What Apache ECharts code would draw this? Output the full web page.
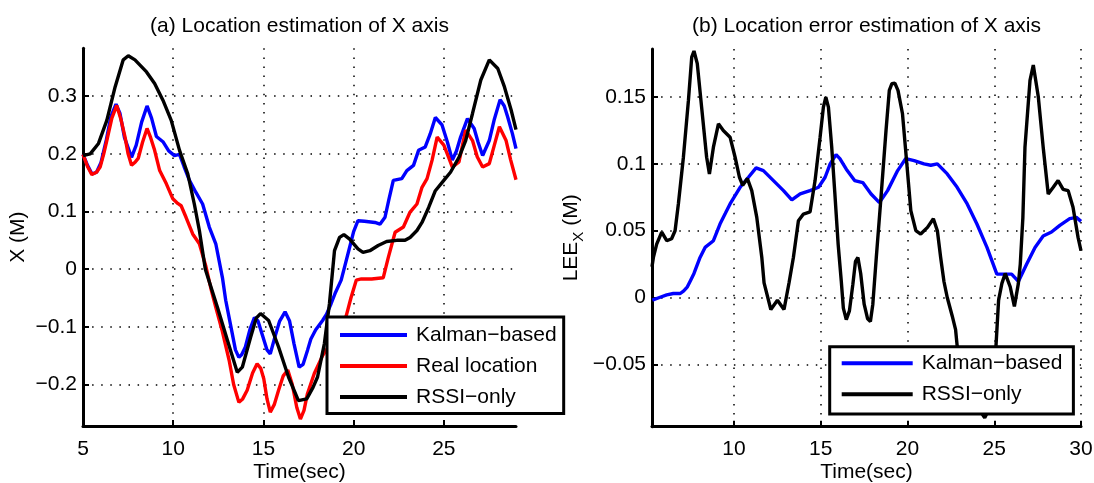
<!DOCTYPE html>
<html>
<head>
<meta charset="utf-8">
<script src="https://cdn.jsdelivr.net/npm/echarts@6/dist/echarts.min.js"></script>
<style>
  html, body { margin: 0; padding: 0; background: #fff; }
  #chart { width: 1094px; height: 483px; }
</style>
</head>
<body>
<div id="chart"></div>
<script>
// ---------- Panel (a): location estimate of X ----------
const timeKalmanA = [5.0, 5.25, 5.5, 5.75, 6.0, 6.3, 6.55, 6.83, 7.05, 7.3, 7.69, 7.95, 8.25, 8.55, 8.8, 9.07, 9.43, 9.75, 10.07, 10.35, 10.6, 10.9, 11.26, 11.63, 12.0, 12.36, 12.73, 12.91, 13.2, 13.45, 13.64, 13.8, 14.0, 14.25, 14.5, 14.7, 14.95, 15.2, 15.38, 15.66, 15.9, 16.2, 16.45, 16.7, 16.98, 17.2, 17.45, 17.63, 17.9, 18.28, 18.5, 18.75, 19.0, 19.31, 19.55, 19.78, 20.0, 20.24, 20.6, 21.18, 21.46, 21.74, 21.95, 22.2, 22.67, 22.95, 23.32, 23.6, 23.97, 24.25, 24.53, 24.9, 25.2, 25.47, 25.7, 25.93, 26.31, 26.68, 26.9, 27.15, 27.52, 27.8, 28.12, 28.35, 28.54, 28.8, 29.0];
const kalmanA = [0.199, 0.18, 0.165, 0.168, 0.185, 0.225, 0.265, 0.286, 0.27, 0.228, 0.194, 0.215, 0.255, 0.283, 0.262, 0.23, 0.221, 0.205, 0.197, 0.199, 0.178, 0.154, 0.133, 0.113, 0.073, 0.044, -0.015, -0.054, -0.1, -0.14, -0.153, -0.148, -0.135, -0.105, -0.084, -0.09, -0.115, -0.14, -0.147, -0.115, -0.09, -0.074, -0.09, -0.13, -0.17, -0.165, -0.14, -0.121, -0.105, -0.089, -0.078, -0.06, -0.04, -0.019, 0.01, 0.038, 0.065, 0.084, 0.083, 0.081, 0.078, 0.09, 0.12, 0.154, 0.157, 0.171, 0.18, 0.206, 0.212, 0.235, 0.263, 0.25, 0.22, 0.189, 0.205, 0.229, 0.261, 0.244, 0.22, 0.197, 0.223, 0.26, 0.294, 0.283, 0.264, 0.235, 0.209];

const timeRealA = [5.0, 5.25, 5.49, 5.75, 5.95, 6.15, 6.32, 6.6, 6.87, 7.1, 7.33, 7.5, 7.69, 7.9, 8.06, 8.3, 8.55, 8.75, 8.97, 9.25, 9.62, 9.98, 10.25, 10.44, 10.71, 11.08, 11.45, 11.81, 12.1, 12.36, 12.7, 13.1, 13.35, 13.64, 13.85, 14.1, 14.4, 14.65, 14.85, 15.02, 15.2, 15.38, 15.6, 15.84, 16.1, 16.35, 16.6, 16.85, 17.05, 17.25, 17.44, 17.82, 18.28, 18.7, 19.2, 19.59, 19.85, 20.15, 20.43, 21.0, 21.64, 21.92, 22.3, 22.76, 23.13, 23.51, 23.79, 24.07, 24.35, 24.63, 25.0, 25.25, 25.47, 25.84, 26.21, 26.59, 26.85, 27.15, 27.52, 27.8, 28.08, 28.45, 28.7, 29.0];
const realA = [0.199, 0.178, 0.164, 0.168, 0.177, 0.2, 0.223, 0.262, 0.284, 0.26, 0.229, 0.2, 0.18, 0.186, 0.192, 0.22, 0.244, 0.228, 0.206, 0.171, 0.148, 0.122, 0.114, 0.11, 0.09, 0.061, 0.044, 0.005, -0.035, -0.066, -0.105, -0.158, -0.2, -0.231, -0.225, -0.21, -0.18, -0.164, -0.172, -0.19, -0.225, -0.248, -0.235, -0.21, -0.185, -0.175, -0.2, -0.24, -0.26, -0.245, -0.216, -0.181, -0.15, -0.13, -0.105, -0.081, -0.05, -0.019, -0.017, -0.017, -0.015, 0.02, 0.064, 0.073, 0.099, 0.113, 0.142, 0.157, 0.189, 0.229, 0.215, 0.195, 0.177, 0.186, 0.241, 0.223, 0.195, 0.177, 0.183, 0.215, 0.247, 0.223, 0.19, 0.155];

const timeRssiA = [5.0, 5.4, 5.86, 6.32, 6.78, 7.23, 7.51, 7.88, 8.52, 8.97, 9.43, 9.89, 10.35, 10.81, 11.17, 11.45, 11.78, 12.45, 13.0, 13.55, 13.83, 14.29, 14.6, 14.84, 15.29, 15.84, 16.39, 16.94, 17.4, 17.75, 18.0, 18.38, 18.66, 18.94, 19.22, 19.46, 19.78, 20.24, 20.52, 20.9, 21.36, 21.83, 22.39, 22.85, 23.13, 23.51, 23.79, 24.16, 24.53, 25.0, 25.37, 25.84, 26.21, 26.59, 27.05, 27.52, 27.99, 28.36, 28.73, 29.0];
const rssiA = [0.197, 0.2, 0.218, 0.258, 0.316, 0.363, 0.37, 0.363, 0.342, 0.322, 0.293, 0.258, 0.206, 0.165, 0.113, 0.067, 0.0, -0.066, -0.123, -0.179, -0.17, -0.118, -0.085, -0.077, -0.089, -0.135, -0.187, -0.228, -0.225, -0.205, -0.187, -0.129, -0.06, 0.032, 0.055, 0.06, 0.052, 0.035, 0.029, 0.032, 0.041, 0.048, 0.05, 0.05, 0.055, 0.067, 0.081, 0.107, 0.136, 0.154, 0.168, 0.194, 0.223, 0.27, 0.328, 0.363, 0.348, 0.316, 0.276, 0.242];

const timeTicksA = [5, 10, 15, 20, 25];
const valueTicksA = [-0.2, -0.1, 0, 0.1, 0.2, 0.3];

// ---------- Panel (b): location error estimate of X ----------
const timeKalmanB = [5.29, 5.7, 6.12, 6.5, 6.9, 7.1, 7.31, 7.5, 7.69, 8.04, 8.33, 8.81, 9.19, 9.5, 9.77, 10.05, 10.35, 10.83, 11.27, 11.69, 12.27, 12.85, 13.33, 13.81, 14.38, 14.87, 15.25, 15.54, 15.88, 16.1, 16.47, 16.95, 17.42, 17.9, 18.38, 18.85, 19.43, 19.9, 20.38, 20.95, 21.34, 21.72, 22.29, 22.86, 23.44, 24.0, 24.58, 25.15, 25.53, 26.0, 26.39, 26.87, 27.35, 27.82, 28.3, 28.78, 29.35, 29.73, 30.0];
const kalmanB = [-0.002, 0.0, 0.002, 0.003, 0.003, 0.005, 0.008, 0.013, 0.018, 0.03, 0.0375, 0.0425, 0.055, 0.063, 0.07, 0.076, 0.0825, 0.09, 0.097, 0.095, 0.0875, 0.08, 0.073, 0.0775, 0.08, 0.0825, 0.09, 0.1, 0.107, 0.104, 0.096, 0.0875, 0.086, 0.0775, 0.071, 0.08, 0.095, 0.104, 0.1025, 0.1, 0.099, 0.1, 0.0925, 0.0825, 0.07, 0.055, 0.0375, 0.0175, 0.0175, 0.0175, 0.012, 0.025, 0.0375, 0.046, 0.049, 0.054, 0.059, 0.06, 0.057];

const timeRssiB = [5.27, 5.35, 5.54, 5.83, 6.12, 6.4, 6.6, 6.79, 7.08, 7.37, 7.56, 7.69, 7.88, 8.13, 8.42, 8.58, 8.81, 9.1, 9.38, 9.77, 10.06, 10.31, 10.5, 10.77, 11.02, 11.31, 11.6, 11.73, 12.12, 12.5, 12.88, 13.17, 13.42, 13.71, 14.0, 14.38, 14.67, 14.96, 15.15, 15.29, 15.44, 15.63, 15.8, 16.0, 16.18, 16.3, 16.47, 16.65, 16.85, 17.0, 17.14, 17.3, 17.5, 17.7, 17.86, 18.0, 18.2, 18.47, 18.76, 18.95, 19.1, 19.27, 19.45, 19.71, 19.96, 20.19, 20.48, 20.76, 21.15, 21.49, 21.72, 21.91, 22.1, 22.29, 22.58, 22.77, 22.86, 23.2, 23.6, 24.0, 24.3, 24.45, 24.6, 24.8, 25.0, 25.1, 25.25, 25.44, 25.63, 25.92, 26.16, 26.39, 26.5, 26.65, 26.77, 27.06, 27.25, 27.54, 27.82, 28.11, 28.4, 28.68, 28.97, 29.26, 29.54, 29.83, 30.0];
const rssiB = [0.023, 0.03, 0.04, 0.049, 0.0425, 0.044, 0.05, 0.07, 0.105, 0.1475, 0.18, 0.1845, 0.175, 0.1425, 0.105, 0.0925, 0.1125, 0.13, 0.125, 0.12, 0.105, 0.09, 0.084, 0.089, 0.08, 0.06, 0.03, 0.011, -0.009, -0.002, -0.009, 0.011, 0.03, 0.0575, 0.0625, 0.064, 0.0875, 0.12, 0.1425, 0.15, 0.1425, 0.1125, 0.08, 0.04, 0.0125, -0.008, -0.0166, -0.01, 0.01, 0.027, 0.03, 0.018, -0.005, -0.016, -0.018, -0.005, 0.03, 0.075, 0.125, 0.155, 0.16, 0.1605, 0.155, 0.1375, 0.1, 0.065, 0.05, 0.0475, 0.0525, 0.059, 0.05, 0.03, 0.012, 0.0, -0.014, -0.024, -0.036, -0.05, -0.065, -0.078, -0.087, -0.09, -0.086, -0.065, -0.045, -0.036, -0.002, 0.0106, 0.018, 0.008, -0.0067, 0.0106, 0.025, 0.06, 0.1125, 0.1625, 0.174, 0.15, 0.1125, 0.0775, 0.0825, 0.0875, 0.081, 0.08, 0.0675, 0.045, 0.035];

const timeTicksB = [10, 15, 20, 25, 30];
const valueTicksB = [-0.05, 0, 0.05, 0.1, 0.15];

// ---------- helpers ----------
const FONT = '"Liberation Sans", Arial, Helvetica, sans-serif';
const LINE_W = 3.4;
const pairs = (xs, ys) => xs.map((x, i) => [x, ys[i]]);
const withMinus = v => (v < 0 ? '\u2212' + String(-v) : String(v));
const dotted = { show: true, lineStyle: { color: '#000', width: 1.5, type: [1.5, 7.6] } };
const axisLine = { show: true, onZero: false, lineStyle: { color: '#000', width: 3 } };
const tick = vals => ({ show: true, inside: true, length: 6, customValues: vals, lineStyle: { color: '#000', width: 2 } });
const label = (vals, extra) => Object.assign({
  customValues: vals, color: '#000', fontFamily: FONT, fontSize: 21, lineHeight: 24,
  formatter: withMinus
}, extra);

function timeAxis(gridIndex, min, max, ticks) {
  return {
    type: 'value', gridIndex, min, max,
    name: 'Time(sec)', nameLocation: 'middle', nameGap: 34, nameMoveOverlap: false,
    nameTextStyle: { color: '#000', fontFamily: FONT, fontSize: 21, lineHeight: 24 },
    axisLine, axisTick: tick(ticks), axisLabel: label(ticks, { margin: 11 }),
    splitLine: dotted
  };
}

function legendBox(names, left, top, padding, itemWidth) {
  return {
    data: names, orient: 'vertical', left, top, padding,
    icon: 'rect', itemWidth, itemHeight: 4, itemGap: 7,
    backgroundColor: '#fff', borderColor: '#000', borderWidth: 3, borderRadius: 0,
    selectedMode: false, z: 10,
    formatter: n => n.replace('-', '\u2212'),
    textStyle: { color: '#000', fontFamily: FONT, fontSize: 21, lineHeight: 24, padding: [0, 0, 0, 4] }
  };
}

const line = (name, axis, xs, ys, color) => ({
  name, type: 'line', xAxisIndex: axis, yAxisIndex: axis, data: pairs(xs, ys),
  showSymbol: false, symbol: 'none', color, lineStyle: { color, width: LINE_W }
});

const chart = echarts.init(document.getElementById('chart'), null, { renderer: 'canvas' });
chart.setOption({
  animation: false,
  backgroundColor: '#fff',
  textStyle: { fontFamily: FONT },
  title: [
    { text: '(a) Location estimation of X axis', left: 299.5, top: 16, textAlign: 'center', padding: 0,
      textStyle: { color: '#000', fontFamily: FONT, fontSize: 21, fontWeight: 'normal' } },
    { text: '(b) Location error estimation of X axis', left: 866.5, top: 16, textAlign: 'center', padding: 0,
      textStyle: { color: '#000', fontFamily: FONT, fontSize: 21, fontWeight: 'normal' } }
  ],
  grid: [
    { left: 83, top: 48.3, width: 433, height: 377.7, outerBoundsMode: 'none' },
    { left: 652, top: 49, width: 429, height: 377.7, outerBoundsMode: 'none' }
  ],
  xAxis: [
    timeAxis(0, 5, 29, timeTicksA),
    timeAxis(1, 5.27, 30, timeTicksB)
  ],
  yAxis: [
    {
      type: 'value', gridIndex: 0, min: -0.272, max: 0.383,
      name: 'X (M)', nameLocation: 'middle', nameGap: 53, nameMoveOverlap: false,
      nameTextStyle: { color: '#000', fontFamily: FONT, fontSize: 21, lineHeight: 24 },
      axisLine, axisTick: tick(valueTicksA), axisLabel: label(valueTicksA, { margin: 6 }),
      splitLine: dotted
    },
    {
      type: 'value', gridIndex: 1, min: -0.0967, max: 0.186,
      name: '{a|LEE}{b|X}{a| (M)}', nameLocation: 'middle', nameGap: 67, nameMoveOverlap: false,
      nameTextStyle: {
        color: '#000', fontFamily: FONT,
        rich: {
          a: { fontFamily: FONT, fontSize: 21, lineHeight: 24, verticalAlign: 'top', color: '#000' },
          b: { fontFamily: FONT, fontSize: 15, lineHeight: 16, padding: [10, 0, 0, 0], verticalAlign: 'top', color: '#000' }
        }
      },
      axisLine, axisTick: tick(valueTicksB), axisLabel: label(valueTicksB, { margin: 6 }),
      splitLine: dotted
    }
  ],
  legend: [
    legendBox(['Kalman-based', 'Real location', 'RSSI-only'], 327, 317, [6, 7, 4.5, 13], 67),
    legendBox(['Kalman-based', 'RSSI-only'], 829.7, 346.7, [4.6, 11, 7.7, 12], 71)
  ],
  series: [
    line('Kalman-based', 0, timeKalmanA, kalmanA, '#0000ff'),
    line('Real location', 0, timeRealA, realA, '#ff0000'),
    line('RSSI-only', 0, timeRssiA, rssiA, '#000000'),
    line('Kalman-based', 1, timeKalmanB, kalmanB, '#0000ff'),
    line('RSSI-only', 1, timeRssiB, rssiB, '#000000')
  ]
});
</script>
</body>
</html>
